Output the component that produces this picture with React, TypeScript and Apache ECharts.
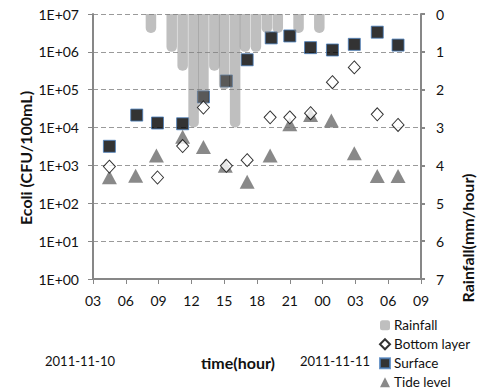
import React, { useEffect, useRef } from "react";
import * as echarts from "echarts";

// hours counted from 03:00 on 2011-11-10
const surfaceHours = [1.5, 4.0, 5.9, 8.2, 10.1, 12.2, 14.1, 16.3, 18.0, 19.9, 21.9, 23.9, 26.0, 27.9];
const surfaceValues = [3200, 21400, 13200, 12600, 64600, 170000, 617000, 2340000, 2630000, 1290000, 1120000, 1580000, 3310000, 1510000];

const bottomHours = [1.5, 5.9, 8.2, 10.1, 12.2, 14.1, 16.2, 18.0, 19.9, 21.9, 23.9, 26.0, 27.9];
const bottomValues = [930, 480, 3240, 33900, 980, 1380, 18600, 18600, 24000, 158000, 389000, 22400, 11700];

const tideHours = [1.5, 3.9, 5.8, 8.2, 10.1, 12.1, 14.1, 16.2, 18.0, 19.9, 21.8, 23.9, 26.0, 27.9];
const tideValues = [4.31, 4.27, 3.74, 3.24, 3.51, 4.01, 4.43, 3.74, 2.91, 2.67, 2.81, 3.68, 4.28, 4.28];

const rainHours = [5.3, 7.2, 8.2, 9.2, 10.1, 11.1, 12.0, 13.0, 13.9, 14.9, 15.9, 16.9, 18.8, 20.7];
const rainValues = [0.5, 1.0, 1.5, 3.0, 2.4, 1.5, 2.0, 3.0, 1.0, 1.0, 0.5, 0.5, 0.5, 0.5];

const dateLabels = ["2011-11-10", "2011-11-11"];
const legendNames = ["Rainfall", "Bottom layer", "Surface", "Tide level"];

const FONT = "Lato, sans-serif";
const AXIS_GRAY = "#878787";
const TEXT = "#111";

export default function App() {
  const ref = useRef<HTMLDivElement>(null);

  useEffect(() => {
    if (!ref.current) return;
    const chart = echarts.init(ref.current, undefined, { renderer: "svg" });

    const zip = (xs: number[], ys: number[]) => xs.map((x, i) => [x, ys[i]]);

    const gText = (text: string, x: number, y: number, size: number, bold: boolean, rotate = false) => ({
      type: "text",
      x,
      y,
      rotation: rotate ? Math.PI / 2 : 0,
      style: {
        text,
        font: `${bold ? "bold " : ""}${size}px Lato, sans-serif`,
        fontFamily: "Lato",
        fontSize: size,
        fontWeight: bold ? "bold" : "normal",
        fill: TEXT,
        align: "center",
        verticalAlign: "middle",
      },
    });

    chart.setOption({
      animation: false,
      textStyle: { fontFamily: FONT },
      grid: { left: 93, right: 57, top: 14, bottom: 113, containLabel: false },
      legend: {
        orient: "vertical",
        left: 379,
        top: 318,
        height: 74,
        padding: 0,
        itemWidth: 10,
        itemHeight: 10,
        itemGap: 4.5,
        data: legendNames,
        textStyle: { fontFamily: FONT, fontSize: 13.5, lineHeight: 14.5, color: TEXT, padding: [0, 0, 0, -1] },
      },
      xAxis: {
        type: "value",
        min: 0,
        max: 30,
        interval: 3,
        axisLine: { show: true, onZero: false, lineStyle: { color: AXIS_GRAY, width: 2 } },
        axisTick: { show: true, length: 5, lineStyle: { color: AXIS_GRAY } },
        splitLine: { show: false },
        axisLabel: {
          margin: 14,
          fontSize: 14,
          color: TEXT,
          fontFamily: FONT,
          formatter: (v: number) => String((3 + v) % 24).padStart(2, "0"),
        },
      },
      yAxis: [
        {
          type: "log",
          logBase: 10,
          min: 1,
          max: 10000000,
          splitNumber: 7,
          axisLine: { show: true, lineStyle: { color: AXIS_GRAY, width: 2 } },
          axisTick: { show: true, length: 5, lineStyle: { color: AXIS_GRAY } },
          splitLine: { show: true, lineStyle: { color: "#9a9a9a", type: [5, 3], width: 1 } },
          axisLabel: {
            margin: 14,
            fontSize: 14,
            color: TEXT,
            fontFamily: FONT,
            formatter: (v: number) => "1E+" + String(Math.round(Math.log10(v))).padStart(2, "0"),
          },
        },
        {
          type: "value",
          min: 0,
          max: 7,
          interval: 1,
          inverse: true,
          position: "right",
          axisLine: { show: true, lineStyle: { color: AXIS_GRAY, width: 2 } },
          axisTick: { show: true, length: 4, lineStyle: { color: AXIS_GRAY, width: 2 } },
          splitLine: { show: false },
          axisLabel: { margin: 15, fontSize: 14, color: TEXT, fontFamily: FONT },
        },
      ],
      series: [
        {
          name: "Rainfall",
          type: "bar",
          yAxisIndex: 1,
          barWidth: 10.5,
          z: 3,
          data: zip(rainHours, rainValues),
          itemStyle: { color: "rgba(128,128,128,0.5)", borderRadius: [0, 0, 5, 5] },
        },
        {
          name: "Bottom layer",
          type: "scatter",
          yAxisIndex: 0,
          symbol: "diamond",
          symbolSize: [12, 13],
          z: 5,
          data: zip(bottomHours, bottomValues),
          itemStyle: { color: "#ffffff", borderColor: "#000000", borderWidth: 1 },
        },
        {
          name: "Surface",
          type: "scatter",
          yAxisIndex: 0,
          symbol: "rect",
          symbolSize: 12,
          z: 2,
          data: zip(surfaceHours, surfaceValues),
          itemStyle: { color: "#000000", borderColor: "#4a7ebb", borderWidth: 1 },
        },
        {
          name: "Tide level",
          type: "scatter",
          yAxisIndex: 1,
          symbol: "triangle",
          symbolSize: [15, 14],
          z: 4,
          data: zip(tideHours, tideValues),
          itemStyle: { color: "#6b6b6b" },
        },
      ],
      graphic: [
        gText("Ecoli (CFU/100mL)", 25, 158, 16, true, true),
        gText("Rainfall(mm/hour)", 467, 238, 16, true, true),
        gText("time(hour)", 238, 362, 16, true),
        gText(dateLabels[0], 80, 361, 13, false),
        gText(dateLabels[1], 335, 361, 13, false),
      ],
    });

    return () => chart.dispose();
  }, []);

  return (
    <div
      ref={ref}
      style={{ position: "fixed", left: 0, top: 0, width: 478, height: 392, background: "#fff" }}
    />
  );
}
